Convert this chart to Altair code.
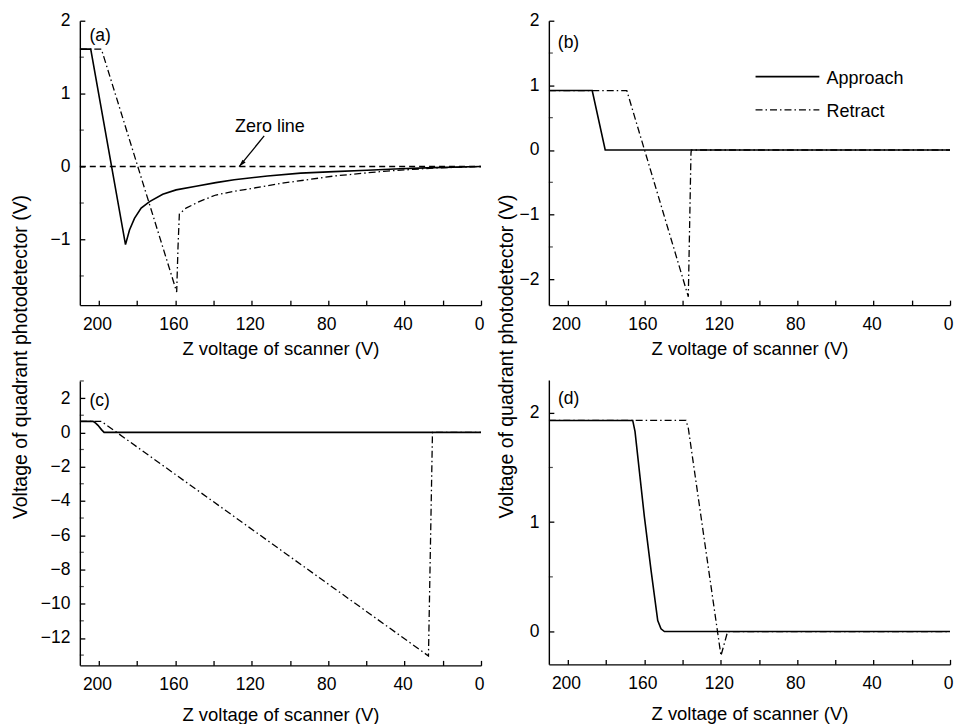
import altair as alt
import pandas as pd

FONT = "Liberation Sans"

# ---------------- data ----------------
# panel (a)
a_app_x = [210, 204.3, 186.1, 184.0, 181.4, 177.9, 173.5, 166.6, 159.6, 149.2, 138.8, 129.2, 111.8, 94.4, 77.0, 59.6, 42.3, 24.9, 0]
a_app_y = [1.61, 1.61, -1.07, -0.87, -0.71, -0.57, -0.48, -0.38, -0.32, -0.27, -0.22, -0.18, -0.13, -0.09, -0.07, -0.05, -0.03, -0.015, 0]
a_ret_x = [210, 198.7, 159.3, 158.6, 157.9, 154.4, 147.5, 138.8, 129.2, 103.1, 77.0, 51.0, 24.9, 0]
a_ret_y = [1.61, 1.61, -1.72, -1.1, -0.65, -0.57, -0.48, -0.39, -0.34, -0.225, -0.13, -0.065, -0.02, 0]
zero_x = [210, 0]
zero_y = [0, 0]
zero_text = ["Zero line"]
zero_text_x = [110.5]
zero_text_y = [0.54]
arrow_x = [113.5, 126.6]
arrow_y = [0.42, 0.0]

# panel (b)
b_app_x = [210, 187.3, 180.5, 0]
b_app_y = [0.92, 0.92, 0.0, 0.0]
b_ret_x = [210, 169.2, 137.0, 135.6, 135.4, 0]
b_ret_y = [0.92, 0.92, -2.27, -0.05, 0.0, 0.0]
legend_names = ["Approach", "Retract"]
legend_x = [101.8, 68.4]
legend_y = [1.135, 0.62]
legend_text_x = 66.2

# panel (c)
c_app_x = [210, 203.1, 201.7, 200.5, 198.7, 197.3, 0]
c_app_y = [0.64, 0.64, 0.54, 0.41, 0.16, 0.0, 0.0]
c_ret_x = [210, 198.7, 27.5, 25.4, 0]
c_ret_y = [0.64, 0.64, -13.05, 0.0, 0.0]

# panel (d)
d_app_x = [210, 166.1, 164.9, 160.0, 156.5, 153.0, 151.3, 149.5, 0]
d_app_y = [1.93, 1.93, 1.83, 1.05, 0.56, 0.10, 0.025, 0.0, 0.0]
d_ret_x = [210, 138.2, 137.0, 119.9, 116.4, 0]
d_ret_y = [1.93, 1.93, 1.86, -0.22, 0.0, 0.0]

panel_tags = ["(a)", "(b)", "(c)", "(d)"]
tag_x = [205.0, 205.3, 205.0, 205.2]
tag_y = [1.72, 1.58, 1.52, 2.08]

# axis ticks
x_ticks = [0, 20, 40, 60, 80, 100, 120, 140, 160, 180, 200]
a_major = [-1, 0, 1, 2]
a_minor = [-1.5, -0.5, 0.5, 1.5]
b_major = [-2, -1, 0, 1, 2]
b_minor = [-1.5, -0.5, 0.5, 1.5]
c_major = [-12, -10, -8, -6, -4, -2, 0, 2]
c_minor = [-13, -11, -9, -7, -5, -3, -1, 1, 3]
d_major = [0, 1, 2]
d_minor = [0.5, 1.5]

XTITLE = "Z voltage of scanner (V)"
YTITLE = "Voltage of quadrant photodetector (V)"

W, H = 402, 285
INWARD = {"expr": "-5"}


def xaxis(title_pad):
    return alt.Axis(values=x_ticks, labelExpr="datum.value % 40 == 0 ? datum.label : ''",
                    format="d", title=XTITLE, titlePadding=title_pad, tickSize=INWARD,
                    labelPadding=15, labelOffset=-2, labelOverlap=False, labelFlush=False)


def yaxis(vals):
    return alt.Axis(values=vals, format="d", title=None, tickSize=INWARD, labelPadding=15,
                    labelOverlap=False, labelFlush=False)


def panel(ax, ay, rx, ry, ydom, major, minor, title_pad, extras):
    xs = alt.Scale(domain=[0, 210], reverse=True, nice=False, zero=False)
    ys = alt.Scale(domain=ydom, nice=False, zero=False)
    app = pd.DataFrame({"x": ax, "y": ay, "i": list(range(len(ax)))})
    ret = pd.DataFrame({"x": rx, "y": ry, "i": list(range(len(rx)))})
    ret_l = alt.Chart(ret).mark_line(color="black", strokeWidth=1.3, strokeDash=[7, 3, 1.5, 3], clip=True).encode(
        x=alt.X("x:Q", scale=xs, axis=xaxis(title_pad)),
        y=alt.Y("y:Q", scale=ys, axis=yaxis(major)),
        order="i:Q")
    app_l = alt.Chart(app).mark_line(color="black", strokeWidth=1.6, clip=True).encode(
        x=alt.X("x:Q", scale=xs), y=alt.Y("y:Q", scale=ys), order="i:Q")
    mt = alt.Chart(pd.DataFrame({"v": minor})).mark_tick(
        orient="horizontal", color="black", size=4, thickness=1.2).encode(
        y=alt.Y("v:Q", scale=ys), x=alt.value(2))
    return alt.layer(ret_l, app_l, mt, *extras).properties(width=W, height=H)


def tag(k):
    df = pd.DataFrame({"t": [panel_tags[k]], "x": [tag_x[k]], "y": [tag_y[k]]})
    return alt.Chart(df).mark_text(align="left", baseline="alphabetic", font=FONT, fontSize=17.5,
                                   color="black").encode(x="x:Q", y="y:Q", text="t:N")


# ---- panel a extras
zero_df = pd.DataFrame({"x": zero_x, "y": zero_y})
zero_l = alt.Chart(zero_df).mark_line(color="black", strokeWidth=1.5, strokeDash=[6, 4]).encode(x="x:Q", y="y:Q")
zt_df = pd.DataFrame({"t": zero_text, "x": zero_text_x, "y": zero_text_y})
zt = alt.Chart(zt_df).mark_text(font=FONT, fontSize=18, color="black", baseline="middle").encode(
    x="x:Q", y="y:Q", text="t:N")
ar_df = pd.DataFrame({"x": arrow_x, "y": arrow_y, "i": [0, 1]})
ar = alt.Chart(ar_df).mark_line(color="black", strokeWidth=1.3).encode(x="x:Q", y="y:Q", order="i:Q")
head_df = pd.DataFrame({"x": [arrow_x[1]], "y": [arrow_y[1]]})
head = alt.Chart(head_df).mark_point(shape="M0,0L-0.4,-1.4L0.4,-1.4Z", filled=True, color="black",
                                     size=110, angle=42, opacity=1).encode(x="x:Q", y="y:Q")
pa = panel(a_app_x, a_app_y, a_ret_x, a_ret_y, [-1.9, 2.0], a_major, a_minor, 7,
           [zero_l, ar, head, zt, tag(0)])

# ---- panel b extras (legend)
lg_app = pd.DataFrame({"x": legend_x, "y": [legend_y[0]] * 2, "i": [0, 1]})
lg_ret = pd.DataFrame({"x": legend_x, "y": [legend_y[1]] * 2, "i": [0, 1]})
lga = alt.Chart(lg_app).mark_line(color="black", strokeWidth=1.6).encode(x="x:Q", y="y:Q", order="i:Q")
lgr = alt.Chart(lg_ret).mark_line(color="black", strokeWidth=1.3, strokeDash=[7, 3, 1.5, 3]).encode(
    x="x:Q", y="y:Q", order="i:Q")
lgt_df = pd.DataFrame({"t": legend_names, "x": [legend_text_x] * 2, "y": legend_y})
lgt = alt.Chart(lgt_df).mark_text(align="left", baseline="middle", font=FONT, fontSize=18, dx=3, dy=2,
                                  color="black").encode(x="x:Q", y="y:Q", text="t:N")
pb = panel(b_app_x, b_app_y, b_ret_x, b_ret_y, [-2.4, 2.0], b_major, b_minor, 7,
           [lga, lgr, lgt, tag(1)])

# ---- panel c
pc = panel(c_app_x, c_app_y, c_ret_x, c_ret_y, [-13.6, 3.0], c_major, c_minor, 13, [tag(2)])

# ---- panel d
pd_ = panel(d_app_x, d_app_y, d_ret_x, d_ret_y, [-0.3, 2.3], d_major, d_minor, 13, [tag(3)])


def ytitle(off):
    return alt.TitleParams(text=YTITLE, orient="left", anchor="middle", font=FONT, fontSize=19.5,
                           fontWeight="normal", color="black", offset=off, dx=11)


left = alt.vconcat(pa, pc, spacing=22).properties(title=ytitle(9))
right = alt.vconcat(pb, pd_, spacing=22).properties(title=ytitle(1))

chart = alt.hconcat(left, right, spacing=13).properties(
    padding={"left": 10, "top": 11, "right": 3, "bottom": 0},
    background="white"
).configure_view(stroke=None).configure_axis(
    grid=False, domainColor="black", domainWidth=1.4, tickColor="black", tickWidth=1.3,
    labelColor="black", titleColor="black", labelFont=FONT, titleFont=FONT,
    labelFontSize=17.5, titleFontSize=18.5, titleFontWeight="normal",
    labelOverlap=False, labelFlush=False, labelBound=False
)

chart.save("out.html", embed_options={"renderer": "svg", "actions": False})
